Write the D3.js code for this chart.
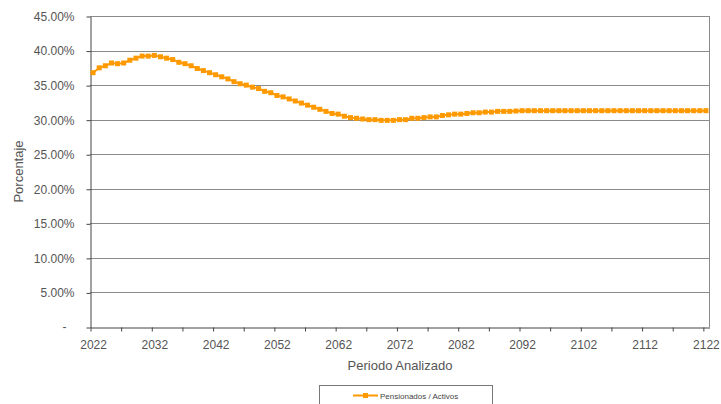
<!DOCTYPE html>
<html><head><meta charset="utf-8">
<script src="https://cdn.jsdelivr.net/npm/d3@7"></script>
<style>
body{margin:0;background:#fff;}
text{font-family:"Liberation Sans",Arial,sans-serif;}
</style></head>
<body><svg id="c" width="721" height="404"></svg>
<script>
const years = d3.range(2022, 2123);
const ratio = [
36.8,37.5,37.8,38.2,38.1,38.2,38.6,38.9,39.2,39.2,
39.3,39.1,38.9,38.7,38.3,38.1,37.8,37.4,37.1,36.8,
36.5,36.2,35.9,35.5,35.2,35.0,34.7,34.5,34.1,33.9,
33.5,33.3,33.0,32.7,32.4,32.1,31.8,31.5,31.2,30.9,
30.8,30.5,30.3,30.2,30.1,30.0,30.0,29.9,29.9,29.9,
30.0,30.0,30.2,30.2,30.3,30.4,30.4,30.6,30.7,30.8,
30.8,30.9,31.0,31.0,31.1,31.1,31.2,31.2,31.2,31.25,
31.3,31.3,31.3,31.3,31.3,31.3,31.3,31.3,31.3,31.3,
31.3,31.3,31.3,31.3,31.3,31.3,31.3,31.3,31.3,31.3,
31.3,31.3,31.3,31.3,31.3,31.3,31.3,31.3,31.3,31.3,
31.3
];
const yTicks = [0,5,10,15,20,25,30,35,40,45];
const xLabelYears = d3.range(2022, 2123, 10);
const xTickBounds = d3.range(2021.5, 2122, 5);
const seriesName = "Pensionados / Activos";
const xTitle = "Periodo Analizado";
const yTitle = "Porcentaje";

const svg = d3.select("#c");
const L=90, R=709, T=16, B=327;
const x = d3.scaleLinear().domain([2021.5, 2122.5]).range([L, R]);
const y = d3.scaleLinear().domain([0, 45]).range([B, T]);

// gridlines
svg.append("g").selectAll("line").data(yTicks.filter(d=>d>0)).join("line")
  .attr("x1", L).attr("x2", R)
  .attr("y1", d=>Math.round(y(d))+0.5).attr("y2", d=>Math.round(y(d))+0.5)
  .attr("stroke", "#8a8a8a").attr("stroke-width", 1);

// right border
svg.append("line").attr("x1", R+0.5).attr("x2", R+0.5).attr("y1", T).attr("y2", B)
  .attr("stroke", "#8a8a8a");

// y axis
const yAxis = svg.append("g").attr("transform", `translate(${L+0.5},0.5)`)
  .call(d3.axisLeft(y).tickValues(yTicks).tickSize(4).tickSizeOuter(0)
    .tickFormat(d => d === 0 ? "" : d.toFixed(2) + "%"));
yAxis.select(".domain").attr("stroke", "#444");
yAxis.selectAll(".tick line").attr("stroke", "#444");
yAxis.selectAll("text").attr("font-size", 12).attr("fill", "#555").attr("dx", -9);
svg.append("text").attr("x", 64.5).attr("y", y(0)+4).attr("text-anchor","middle")
  .attr("font-size", 12).attr("fill", "#555").text("-");

// x axis tick marks
const xAxisT = svg.append("g").attr("transform", `translate(0.5,${B+0.5})`)
  .call(d3.axisBottom(x).tickValues(xTickBounds).tickSize(4).tickSizeOuter(0).tickFormat(""));
xAxisT.select(".domain").attr("stroke", "#444");
xAxisT.selectAll(".tick line").attr("stroke", "#444");
// x labels
const xAxisL = svg.append("g").attr("transform", `translate(0,${B})`)
  .call(d3.axisBottom(x).tickValues(xLabelYears).tickSize(0).tickFormat(d3.format("d")));
xAxisL.select(".domain").remove();
xAxisL.selectAll("text").attr("font-size", 12).attr("fill", "#555").attr("dy", "1.55em");

// titles
svg.append("text").attr("x", 400).attr("y", 370).attr("text-anchor","middle")
  .attr("font-size", 13).attr("fill", "#555").text(xTitle);
svg.append("text").attr("transform", `translate(23,${(T+B)/2}) rotate(-90)`)
  .attr("text-anchor","middle").attr("font-size", 13).attr("fill", "#555").text(yTitle);

// series
const data = years.map((yr,i)=>({yr, v: ratio[i]}));
svg.append("path").datum(data)
  .attr("fill","none").attr("stroke","#FF9900").attr("stroke-width",2)
  .attr("d", d3.line().x(d=>x(d.yr)).y(d=>y(d.v)));
svg.append("g").selectAll("rect").data(data).join("rect")
  .attr("x", d=>x(d.yr)-2.5).attr("y", d=>y(d.v)-2.5)
  .attr("width",5).attr("height",5).attr("fill","#FF9900");

// legend
svg.append("rect").attr("x", 319.5).attr("y", 385.5).attr("width", 173).attr("height", 30)
  .attr("fill","#fff").attr("stroke","#777");
svg.append("line").attr("x1", 353).attr("x2", 378).attr("y1", 395.5).attr("y2", 395.5)
  .attr("stroke","#FF9900").attr("stroke-width",2);
svg.append("rect").attr("x", 363).attr("y", 393).attr("width",5).attr("height",5).attr("fill","#FF9900");
svg.append("text").attr("x", 380).attr("y", 398.5).attr("font-size", 8).attr("fill","#444").text(seriesName);
</script></body></html>
